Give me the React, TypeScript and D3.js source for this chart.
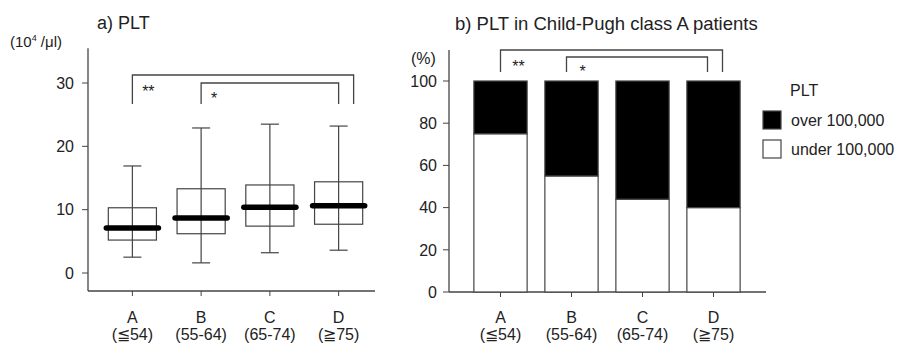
import { useEffect, useRef } from "react";
import * as d3 from "d3";

const groups = ["A", "B", "C", "D"];
const groupRanges = ["(≦54)", "(55-64)", "(65-74)", "(≧75)"];

// boxplot stats (10^4/μl)
const whiskerLow = [2.5, 1.6, 3.2, 3.6];
const q1 = [5.2, 6.2, 7.4, 7.7];
const medians = [7.1, 8.7, 10.4, 10.6];
const q3 = [10.3, 13.3, 13.9, 14.4];
const whiskerHigh = [16.9, 22.9, 23.5, 23.2];
const pltTicks = [0, 10, 20, 30];

// stacked % in Child-Pugh A
const under100k = [75, 55, 44, 40];
const over100k = under100k.map((u) => 100 - u);
const pctTicks = [0, 20, 40, 60, 80, 100];
const legendLabels = ["over 100,000", "under 100,000"];

const FONT = "Arial, 'Liberation Sans', sans-serif";
const INK = "#222";
const LINE = "#444";

export default function App() {
  const ref = useRef<SVGSVGElement>(null);

  useEffect(() => {
    const svg = d3.select(ref.current);
    svg.selectAll("*").remove();
    svg.style("font-family", FONT);

    // ---------- a) boxplot ----------
    const xa = d3.scaleBand().domain(groups).range([98, 373]).paddingInner(0.3).paddingOuter(0.15);
    const ya = d3.scaleLinear().domain([0, 30]).range([273, 83]);
    const a = svg.append("g");

    a.append("text").attr("x", 97).attr("y", 29).attr("font-size", 18).attr("fill", INK).text("a) PLT");
    const unit = a.append("text").attr("x", 10).attr("y", 47).attr("font-size", 15).attr("fill", INK);
    unit.append("tspan").text("(10");
    unit.append("tspan").attr("font-size", 9).attr("dy", -6).text("4");
    unit.append("tspan").attr("dy", 6).text(" /μl)");

    a.append("line").attr("x1", 88).attr("x2", 88).attr("y1", ya(35.5)).attr("y2", 291).attr("stroke", LINE).attr("stroke-width", 1.3);
    a.append("line").attr("x1", 88).attr("x2", 375).attr("y1", 291).attr("y2", 291).attr("stroke", LINE).attr("stroke-width", 1.3);

    pltTicks.forEach((t) => {
      a.append("line").attr("x1", 82).attr("x2", 88).attr("y1", ya(t)).attr("y2", ya(t)).attr("stroke", LINE);
      a.append("text").attr("x", 74).attr("y", ya(t)).attr("dy", "0.36em").attr("text-anchor", "end")
        .attr("font-size", 16).attr("fill", INK).text(t);
    });

    groups.forEach((g, i) => {
      const cx = xa(g)! + xa.bandwidth() / 2;
      const x0 = xa(g)!;
      const w = xa.bandwidth();
      a.append("line").attr("x1", cx).attr("x2", cx).attr("y1", ya(whiskerHigh[i])).attr("y2", ya(whiskerLow[i])).attr("stroke", LINE).attr("stroke-width", 1.2);
      [whiskerHigh[i], whiskerLow[i]].forEach((v) =>
        a.append("line").attr("x1", cx - 9).attr("x2", cx + 9).attr("y1", ya(v)).attr("y2", ya(v)).attr("stroke", LINE).attr("stroke-width", 1.2)
      );
      a.append("rect").attr("x", x0).attr("y", ya(q3[i])).attr("width", w).attr("height", ya(q1[i]) - ya(q3[i]))
        .attr("fill", "white").attr("stroke", LINE).attr("stroke-width", 1.2);
      a.append("line").attr("x1", cx).attr("x2", cx).attr("y1", ya(q3[i])).attr("y2", ya(q1[i])).attr("stroke", LINE).attr("stroke-width", 1.2);
      a.append("line").attr("x1", x0 - 2).attr("x2", x0 + w + 2).attr("y1", ya(medians[i])).attr("y2", ya(medians[i]))
        .attr("stroke", "#000").attr("stroke-width", 5.5).attr("stroke-linecap", "round");
      a.append("line").attr("x1", cx).attr("x2", cx).attr("y1", 291).attr("y2", 296).attr("stroke", LINE);
      a.append("text").attr("x", cx).attr("y", 323).attr("text-anchor", "middle").attr("font-size", 16).attr("fill", INK).text(g);
      a.append("text").attr("x", cx).attr("y", 340).attr("text-anchor", "middle").attr("font-size", 16).attr("fill", INK).text(groupRanges[i]);
    });

    const cA = (g: string) => xa(g)! + xa.bandwidth() / 2;
    const bracket = (sel: any, x1: number, x2: number, top: number, bot: number) =>
      sel.append("path").attr("d", `M${x1},${bot}V${top}H${x2}V${bot}`).attr("fill", "none").attr("stroke", LINE).attr("stroke-width", 1.3);
    bracket(a, cA("A"), cA("D") + 15, 75, 104);
    bracket(a, cA("B"), cA("D"), 83, 104);
    a.append("text").attr("x", cA("A") + 16).attr("y", 97).attr("text-anchor", "middle").attr("font-size", 16).attr("fill", INK).text("**");
    a.append("text").attr("x", cA("B") + 13).attr("y", 104).attr("text-anchor", "middle").attr("font-size", 16).attr("fill", INK).text("*");

    // ---------- b) stacked bars ----------
    const xb = d3.scaleBand().domain(groups).range([465, 749]).paddingInner(0.25).paddingOuter(0.125);
    const yb = d3.scaleLinear().domain([0, 100]).range([292, 81]);
    const b = svg.append("g");

    b.append("text").attr("x", 455).attr("y", 30).attr("font-size", 18.5).attr("fill", INK).text("b) PLT in Child-Pugh class A patients");
    b.append("text").attr("x", 411).attr("y", 64).attr("font-size", 16).attr("fill", INK).text("(%)");

    b.append("line").attr("x1", 449).attr("x2", 449).attr("y1", 50).attr("y2", 292).attr("stroke", LINE).attr("stroke-width", 1.3);
    b.append("line").attr("x1", 449).attr("x2", 766).attr("y1", 292).attr("y2", 292).attr("stroke", LINE).attr("stroke-width", 1.3);
    pctTicks.forEach((t) => {
      b.append("line").attr("x1", 443).attr("x2", 449).attr("y1", yb(t)).attr("y2", yb(t)).attr("stroke", LINE);
      b.append("text").attr("x", 437).attr("y", yb(t)).attr("dy", "0.36em").attr("text-anchor", "end")
        .attr("font-size", 16).attr("fill", INK).text(t);
    });

    groups.forEach((g, i) => {
      const x0 = xb(g)!;
      const w = xb.bandwidth();
      const cx = x0 + w / 2;
      b.append("rect").attr("x", x0).attr("y", yb(under100k[i])).attr("width", w).attr("height", yb(0) - yb(under100k[i]))
        .attr("fill", "white").attr("stroke", LINE).attr("stroke-width", 1.2);
      b.append("rect").attr("x", x0).attr("y", yb(100)).attr("width", w).attr("height", yb(100 - over100k[i]) - yb(100))
        .attr("fill", "#000").attr("stroke", LINE).attr("stroke-width", 1.2);
      b.append("line").attr("x1", cx).attr("x2", cx).attr("y1", 292).attr("y2", 297).attr("stroke", LINE);
      b.append("text").attr("x", cx).attr("y", 323).attr("text-anchor", "middle").attr("font-size", 16).attr("fill", INK).text(g);
      b.append("text").attr("x", cx).attr("y", 340).attr("text-anchor", "middle").attr("font-size", 16).attr("fill", INK).text(groupRanges[i]);
    });

    const cB = (g: string) => xb(g)! + xb.bandwidth() / 2;
    bracket(b, cB("A"), cB("D") + 9, 50, 72);
    bracket(b, cB("B") - 5, cB("D") - 6, 57, 72);
    b.append("text").attr("x", cB("A") + 18).attr("y", 72).attr("text-anchor", "middle").attr("font-size", 16).attr("fill", INK).text("**");
    b.append("text").attr("x", cB("B") + 11).attr("y", 77).attr("text-anchor", "middle").attr("font-size", 16).attr("fill", INK).text("*");

    // legend
    b.append("text").attr("x", 790).attr("y", 96).attr("font-size", 16).attr("fill", INK).text("PLT");
    const fills = ["#000", "white"];
    legendLabels.forEach((lab, i) => {
      const yy = 111 + i * 29;
      b.append("rect").attr("x", 763).attr("y", yy).attr("width", 18).attr("height", 18)
        .attr("fill", fills[i]).attr("stroke", LINE).attr("stroke-width", 1.2);
      b.append("text").attr("x", 791).attr("y", yy + 9).attr("dy", "0.36em").attr("font-size", 16).attr("fill", INK).text(lab);
    });
  }, []);

  return (
    <svg
      ref={ref}
      width={899}
      height={350}
      style={{ display: "block", position: "absolute", left: 0, top: 0, background: "white" }}
    />
  );
}
